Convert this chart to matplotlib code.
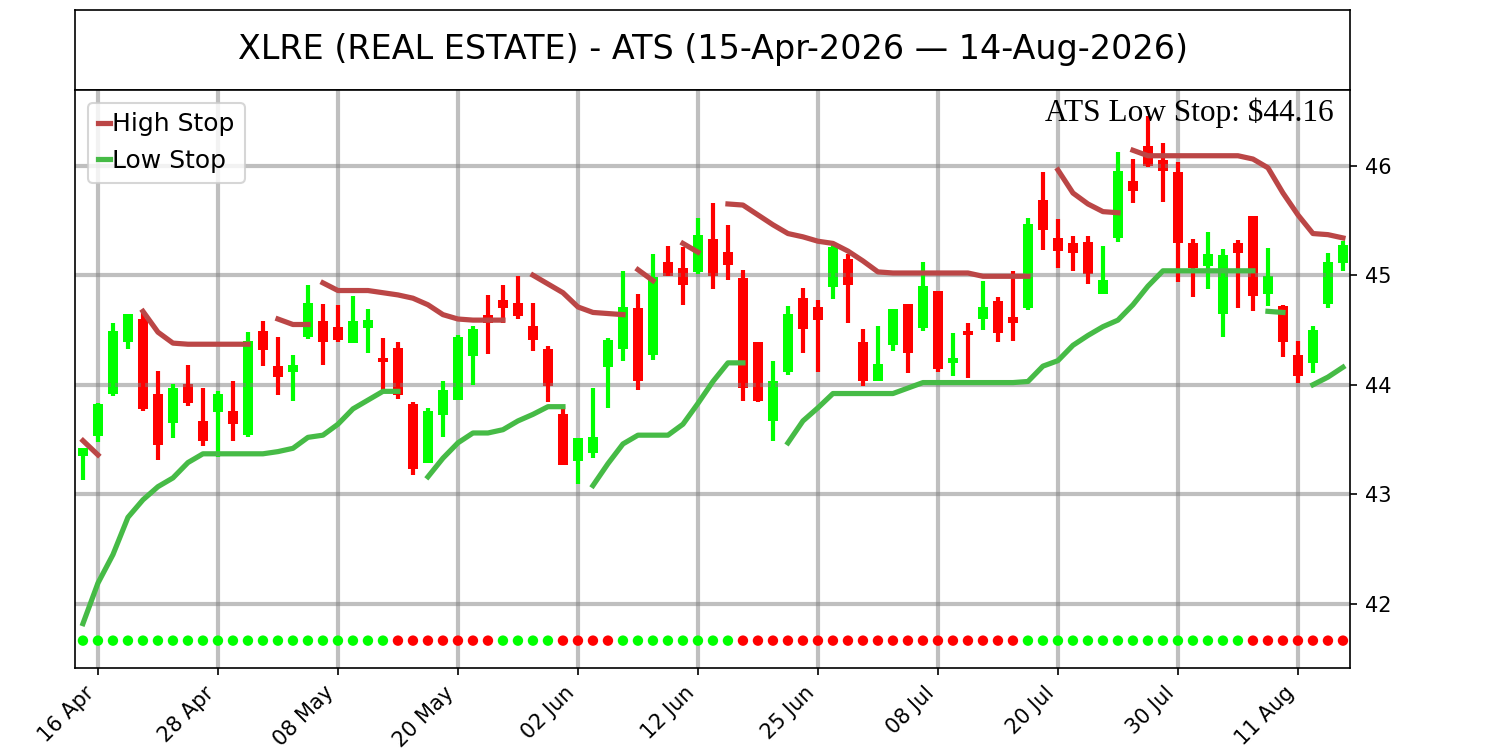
import matplotlib
matplotlib.use("Agg")
import matplotlib.pyplot as plt
import numpy as np
import pandas as pd

nan = np.nan

# trading days 15-Apr-2026 .. 14-Aug-2026
holidays = ["2026-05-25", "2026-06-19", "2026-07-03"]
dates = pd.bdate_range("2026-04-15", "2026-08-14")
dates = dates[~dates.isin(pd.to_datetime(holidays))]

opens = [43.35, 43.53, 43.92, 44.39, 44.60, 43.92, 43.65, 44.01, 43.67, 43.75,
         43.76, 43.54, 44.49, 44.17, 44.12, 44.44, 44.58, 44.53, 44.38, 44.52,
         44.24, 44.34, 43.82, 43.29, 43.72, 43.86, 44.26, 44.64, 44.77, 44.75,
         44.54, 44.33, 43.73, 43.30, 43.38, 44.16, 44.33, 44.70, 44.27, 45.12,
         45.07, 45.03, 45.33, 45.21, 44.97, 44.39, 43.67, 44.12, 44.79, 44.71,
         44.89, 45.15, 44.39, 44.03, 44.36, 44.74, 44.52, 44.86, 44.20, 44.49,
         44.60, 44.76, 44.62, 44.70, 45.69, 45.34, 45.29, 45.30, 44.83, 45.34,
         45.86, 46.18, 46.05, 45.94, 45.29, 45.08, 44.65, 45.29, 45.54, 44.83,
         44.72, 44.27, 44.20, 44.74, 45.11]
highs = [43.42, 43.83, 44.56, 44.65, 44.67, 44.13, 44.01, 44.18, 43.97, 43.94,
         44.03, 44.48, 44.58, 44.44, 44.27, 44.91, 44.74, 44.73, 44.81, 44.69,
         44.43, 44.39, 43.84, 43.79, 44.03, 44.45, 44.54, 44.82, 44.91, 44.99,
         44.75, 44.35, 43.81, 43.51, 43.97, 44.43, 45.04, 44.83, 45.19, 45.27,
         45.26, 45.52, 45.66, 45.46, 45.05, 44.39, 44.22, 44.72, 44.88, 44.77,
         45.29, 45.19, 44.51, 44.54, 44.69, 44.74, 45.12, 44.86, 44.47, 44.56,
         44.95, 44.80, 45.04, 45.52, 45.94, 45.51, 45.36, 45.36, 45.27, 46.12,
         46.06, 46.45, 46.21, 46.03, 45.33, 45.39, 45.24, 45.32, 45.54, 45.25,
         44.73, 44.40, 44.54, 45.20, 45.31]
lows = [43.13, 43.48, 43.90, 44.33, 43.76, 43.31, 43.51, 43.81, 43.44, 43.34,
        43.49, 43.52, 44.17, 43.91, 43.85, 44.42, 44.18, 44.39, 44.38, 44.29,
        43.94, 43.87, 43.18, 43.29, 43.52, 43.86, 44.00, 44.28, 44.56, 44.60,
        44.31, 43.84, 43.27, 43.09, 43.33, 43.79, 44.22, 43.95, 44.23, 44.99,
        44.73, 45.01, 44.87, 44.96, 43.85, 43.84, 43.49, 44.09, 44.29, 44.12,
        44.78, 44.56, 43.99, 44.03, 44.31, 44.11, 44.49, 44.12, 44.08, 44.06,
        44.50, 44.39, 44.40, 44.68, 45.23, 45.07, 45.04, 44.92, 44.83, 45.30,
        45.66, 45.99, 45.67, 44.94, 44.80, 44.87, 44.44, 44.70, 44.67, 44.72,
        44.25, 44.02, 44.11, 44.70, 45.04]
closes = [43.42, 43.82, 44.49, 44.65, 43.78, 43.45, 43.97, 43.83, 43.49, 43.92,
          43.64, 44.40, 44.32, 44.07, 44.18, 44.75, 44.39, 44.41, 44.58, 44.59,
          44.21, 43.91, 43.23, 43.76, 43.95, 44.44, 44.51, 44.56, 44.70, 44.63,
          44.41, 43.99, 43.27, 43.51, 43.52, 44.41, 44.71, 44.03, 44.98, 44.99,
          44.91, 45.37, 44.99, 45.09, 43.97, 43.85, 44.03, 44.65, 44.51, 44.59,
          45.26, 44.91, 44.03, 44.19, 44.69, 44.29, 44.90, 44.14, 44.24, 44.45,
          44.71, 44.47, 44.56, 45.47, 45.41, 45.22, 45.20, 45.01, 44.96, 45.95,
          45.77, 46.00, 45.95, 45.29, 45.07, 45.19, 45.18, 45.20, 44.81, 44.99,
          44.39, 44.08, 44.50, 45.12, 45.28]

high_stop = [43.49, 43.36, nan, nan, 44.67, 44.48, 44.38, 44.37, 44.37, 44.37,
             44.37, 44.37, nan, 44.60, 44.55, 44.55, 44.93, 44.86, 44.86, 44.86,
             44.84, 44.82, 44.79, 44.73, 44.64, 44.60, 44.59, 44.59, 44.59, nan,
             45.00, 44.92, 44.84, 44.71, 44.66, 44.65, 44.64, 45.05, 44.95, nan,
             45.29, 45.21, nan, 45.65, 45.64, 45.55, 45.46, 45.38, 45.35, 45.31,
             45.29, 45.22, 45.13, 45.03, 45.02, 45.02, 45.02, 45.02, 45.02, 45.02,
             44.99, 44.99, 44.99, 44.99, nan, 45.96, 45.75, 45.65, 45.58, 45.57,
             46.14, 46.09, 46.09, 46.09, 46.09, 46.09, 46.09, 46.09, 46.06, 45.98,
             45.75, 45.55, 45.38, 45.37, 45.34]
low_stop = [41.82, 42.19, 42.45, 42.79, 42.95, 43.07, 43.15, 43.29, 43.37, 43.37,
            43.37, 43.37, 43.37, 43.39, 43.42, 43.52, 43.54, 43.64, 43.78, 43.86,
            43.94, 43.94, nan, 43.16, 43.33, 43.47, 43.56, 43.56, 43.59, 43.67,
            43.73, 43.80, 43.80, nan, 43.08, 43.28, 43.46, 43.54, 43.54, 43.54,
            43.64, 43.83, 44.03, 44.20, 44.20, nan, nan, 43.47, 43.67, 43.79,
            43.92, 43.92, 43.92, 43.92, 43.92, 43.97, 44.02, 44.02, 44.02, 44.02,
            44.02, 44.02, 44.02, 44.03, 44.17, 44.22, 44.36, 44.45, 44.53, 44.59,
            44.73, 44.90, 45.04, 45.04, 45.04, 45.04, 45.04, 45.04, 45.04, 44.67,
            44.66, nan, 44.00, 44.07, 44.16]
# stop line restarts (no joining segment) at these days
high_breaks = [16, 37, 70]
low_breaks = [79]

# trend state per day (G = up, R = down)
trend = ("GGGGGGGGGG" "GGGGGGGGGG" "G"
         "RRRRRRR" "GGGG" "RRRR" "GGGGGGGG"
         "RRRRRRRRRR" "RRRRRRRRR"
         "GGGGGGGGGG" "GGGGG"
         "RRRRRRR")

title = "XLRE (REAL ESTATE) - ATS (15-Apr-2026 \u2014 14-Aug-2026)"
last_stop = "ATS Low Stop: $44.16"

x = np.arange(len(opens))
o = np.array(opens)
h = np.array(highs)
l = np.array(lows)
c = np.array(closes)
up = c >= o
col = np.where(up, "#00ff00", "#ff0000")


def draw_stop(ax, vals, breaks, color, label):
    vals = np.array(vals, dtype=float)
    cuts = [0] + breaks + [len(vals)]
    for k in range(len(cuts) - 1):
        a, b = cuts[k], cuts[k + 1]
        ax.plot(x[a:b], vals[a:b], color=color, linewidth=2.5,
                label=label if k == 0 else None, zorder=3)


fig = plt.figure(figsize=(10, 5), dpi=150)

tax = fig.add_axes([0.05, 0.88, 0.85, 0.107])
tax.set_xticks([])
tax.set_yticks([])
tax.text(0.5, 0.5, title, ha="center", va="center", fontsize=16, transform=tax.transAxes)

ax = fig.add_axes([0.05, 0.1093, 0.85, 0.7707])
ax.grid(True, color="gray", alpha=0.5, linewidth=2)

ax.vlines(x, l, h, colors=col, linewidth=2, zorder=2)
ax.bar(x, np.abs(c - o), bottom=np.minimum(o, c), width=0.66, color=col, zorder=1)

draw_stop(ax, high_stop, high_breaks, "#bb4646", "High Stop")
draw_stop(ax, low_stop, low_breaks, "#46bb46", "Low Stop")

dot_col = ["#00ff00" if t == "G" else "#ff0000" for t in trend]
ax.scatter(x, np.full(len(x), 41.665), c=dot_col, s=25, zorder=3, linewidths=0)

ax.text(0.987, 0.987, last_stop, transform=ax.transAxes, ha="right", va="top",
        fontsize=15, family="Liberation Serif")

ax.set_xlim(-0.53, 84.47)
ax.set_ylim(41.415, 46.69)
ax.yaxis.tick_right()
ax.set_yticks([42, 43, 44, 45, 46])

ticks = x[1::8]
ax.set_xticks(ticks)
ax.set_xticklabels([dates[i].strftime("%d %b") for i in ticks], rotation=45, ha="right")

ax.legend(loc="upper left", fontsize=12, handlelength=0.5, handletextpad=0.1)

fig.savefig("out.png", dpi=150)
